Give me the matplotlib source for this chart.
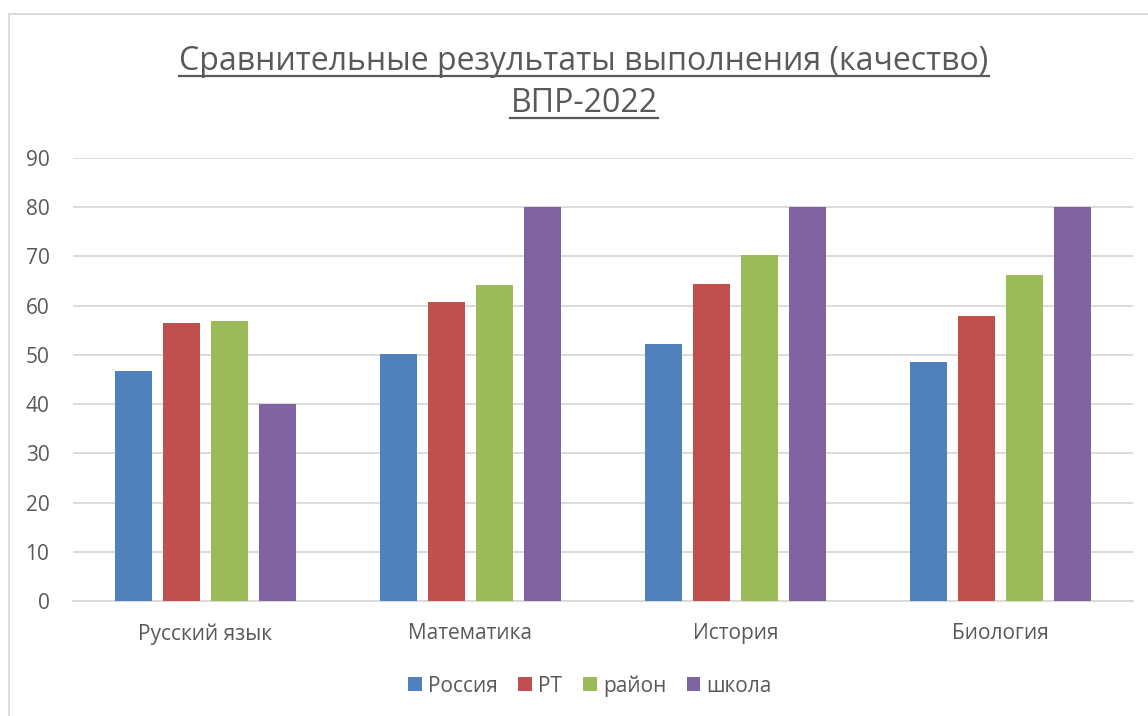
import matplotlib
matplotlib.use("Agg")
import matplotlib.pyplot as plt
from matplotlib.patches import Rectangle
from matplotlib.lines import Line2D
import numpy as np

categories = ["Русский язык", "Математика", "История", "Биология"]
series_names = ["Россия", "РТ", "район", "школа"]
russia = [46.7, 50.2, 52.3, 48.6]
rt = [56.4, 60.7, 64.4, 58.0]
raion = [56.8, 64.3, 70.3, 66.3]
school = [40.0, 80.0, 80.0, 80.0]
yticks = [0, 10, 20, 30, 40, 50, 60, 70, 80, 90]
title_lines = ["Сравнительные результаты выполнения (качество)", "ВПР-2022"]

colors = ["#4F81BD", "#C0504D", "#9BBB59", "#8064A2"]
text_color = "#595959"
grid_color = "#D9D9D9"

plt.rcParams['font.family'] = ['Open Sans', 'DejaVu Sans']

fig = plt.figure(figsize=(11.48, 7.16), dpi=100)
W, H = 1148, 716
ax = fig.add_axes([73 / W, 1 - 601 / H, (1133 - 73) / W, (601 - 158) / H])

x = np.arange(len(categories))
bw = 37 / 265
step = 48 / 265
for i, (vals, name) in enumerate(zip([russia, rt, raion, school], series_names)):
    ax.bar(x + (i - 1.5) * step, vals, width=bw, color=colors[i], label=name, zorder=3)

ax.set_xlim(-0.5, len(categories) - 0.5)
ax.set_ylim(0, 90)
ax.set_yticks(yticks)
ax.set_xticks(x)
ax.set_xticklabels(categories)
ax.grid(axis='y', color=grid_color, linewidth=1.3, zorder=0)
for s in ['top', 'right', 'left']:
    ax.spines[s].set_visible(False)
ax.spines['bottom'].set_color(grid_color)
ax.spines['bottom'].set_linewidth(1.3)
ax.tick_params(axis='both', length=0, labelsize=15, labelcolor=text_color)
ax.tick_params(axis='y', pad=17)
ax.tick_params(axis='x', pad=16)

# frame border
fig.patches.append(Rectangle((9 / W, -0.05), 1.2, 1 - 14 / H + 0.05, transform=fig.transFigure,
                             fill=False, edgecolor=grid_color, linewidth=1.3))

# title with underline
title_y = [62, 104]
texts = []
for line, yy in zip(title_lines, title_y):
    t = fig.text(584 / W, 1 - yy / H, line, ha='center', va='center', fontsize=23, color=text_color)
    texts.append(t)
fig.canvas.draw()
renderer = fig.canvas.get_renderer()
for t in texts:
    bb = t.get_window_extent(renderer)
    yline = bb.y0 + 3
    fig.add_artist(Line2D([bb.x0 / W, bb.x1 / W], [yline / H, yline / H], transform=fig.transFigure,
                          color=text_color, linewidth=1.6))

leg = ax.legend(loc='center', bbox_to_anchor=(590 / W, 1 - 686 / H), bbox_transform=fig.transFigure,
                ncol=4, frameon=False, fontsize=15, handlelength=0.65, handleheight=0.65,
                handletextpad=0.3, columnspacing=1.0)
for t in leg.get_texts():
    t.set_color(text_color)

fig.savefig("out.png", dpi=100)
